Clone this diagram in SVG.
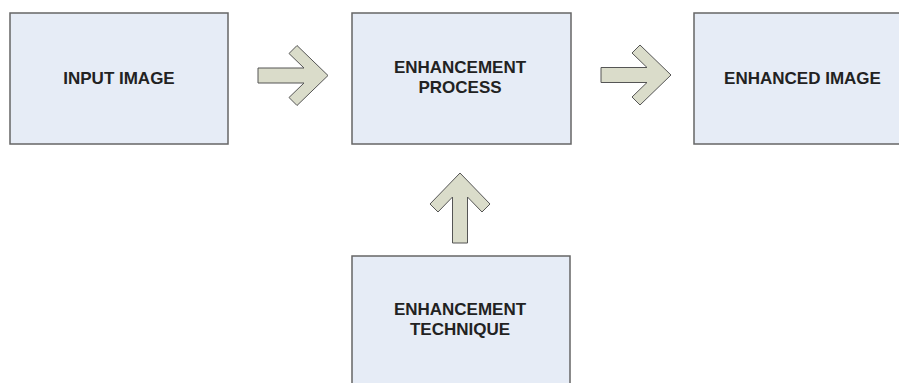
<svg xmlns="http://www.w3.org/2000/svg" width="899" height="383" viewBox="0 0 899 383">
<style>
.box{fill:#e6ecf6;stroke:#666;stroke-width:1.5}
.arr{fill:#dadcca;stroke:#555;stroke-width:1;stroke-linejoin:miter}
.lbl{font-family:"Liberation Sans",Arial,sans-serif;font-weight:bold;font-size:17px;fill:#222;text-anchor:middle}
</style>
<defs>
<path id="arrowShape" d="M0,0 L-31,-30 L-39,-22 L-24,-7.5 L-70,-7.5 L-70,7.5 L-24,7.5 L-39,22 L-31,30 Z"/>
</defs>
<rect width="899" height="383" fill="#fff"/>
<g id="connectors">
<use href="#arrowShape" class="arr" transform="translate(328,75.5)"/>
<use href="#arrowShape" class="arr" transform="translate(671,75)"/>
<use href="#arrowShape" class="arr" transform="translate(460,173) rotate(-90)"/>
</g>
<g id="input-image">
<rect class="box" x="10" y="13" width="218" height="131"/>
<text class="lbl" x="119" y="84">INPUT IMAGE</text>
</g>
<g id="enhancement-process">
<rect class="box" x="352" y="13" width="219" height="131"/>
<text class="lbl" x="460" y="73">ENHANCEMENT</text>
<text class="lbl" x="460" y="93">PROCESS</text>
</g>
<g id="enhanced-image">
<rect class="box" x="694" y="13" width="218" height="131"/>
<text class="lbl" x="802.5" y="84">ENHANCED IMAGE</text>
</g>
<g id="enhancement-technique">
<rect class="box" x="352" y="256" width="218" height="140"/>
<text class="lbl" x="460" y="315">ENHANCEMENT</text>
<text class="lbl" x="460" y="335">TECHNIQUE</text>
</g>
</svg>
